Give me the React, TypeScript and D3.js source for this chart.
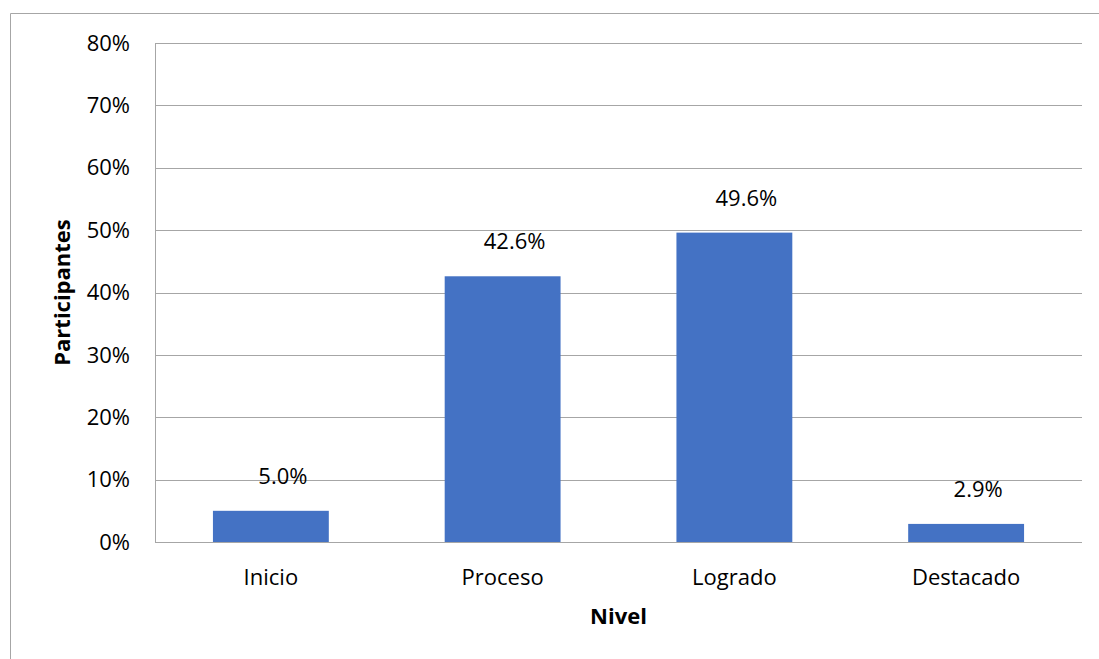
import React from "react";
import * as d3 from "d3";

// Share of participants by achievement level
const categories: string[] = ["Inicio", "Proceso", "Logrado", "Destacado"];
const values: number[] = [5.0, 42.6, 49.6, 2.9];
const yTicks: number[] = [0, 10, 20, 30, 40, 50, 60, 70, 80];

const W = 1099;
const H = 659;
const FONT = "'Open Sans', 'Noto Sans', sans-serif";
const FS = 22;

export default function App() {
  const margin = { left: 155, top: 43, right: 1082, bottom: 542 };

  const x = d3
    .scaleBand<string>()
    .domain(categories)
    .range([margin.left, margin.right])
    .paddingInner(0.5)
    .paddingOuter(0.25);

  const y = d3.scaleLinear().domain([0, 80]).range([margin.bottom, margin.top]);

  const grid = "#A6A6A6";

  return (
    <svg
      width={W}
      height={H}
      style={{ position: "fixed", left: 0, top: 0, background: "#fff" }}
      fontFamily={FONT}
    >
      {/* chart frame (top and left edges visible) */}
      <line x1={10.5} y1={13.5} x2={W} y2={13.5} stroke={grid} strokeWidth={1} />
      <line x1={10.5} y1={13.5} x2={10.5} y2={H} stroke={grid} strokeWidth={1} />

      {/* horizontal gridlines */}
      {yTicks.map((t) => (
        <line
          key={"g" + t}
          x1={margin.left}
          x2={margin.right}
          y1={Math.round(y(t)) + 0.5}
          y2={Math.round(y(t)) + 0.5}
          stroke={grid}
          strokeWidth={1}
        />
      ))}
      {/* value axis line */}
      <line
        x1={margin.left + 0.5}
        x2={margin.left + 0.5}
        y1={margin.top}
        y2={margin.bottom}
        stroke={grid}
        strokeWidth={1}
      />

      {/* y tick labels */}
      {yTicks.map((t) => (
        <text
          key={"t" + t}
          x={130}
          y={y(t)}
          dy="0.35em"
          textAnchor="end"
          fontSize={FS}
          fill="#000"
        >
          {t + "%"}
        </text>
      ))}

      {/* bars */}
      {categories.map((c, i) => (
        <rect
          key={"b" + c}
          x={x(c)!}
          y={y(values[i])}
          width={x.bandwidth()}
          height={y(0) - y(values[i])}
          fill="#4472C4"
        />
      ))}

      {/* value labels */}
      {categories.map((c, i) => (
        <text
          key={"v" + c}
          x={x(c)! + x.bandwidth() / 2 + 12}
          y={y(values[i]) - 27}
          textAnchor="middle"
          fontSize={FS}
          fill="#000"
        >
          {values[i].toFixed(1) + "%"}
        </text>
      ))}

      {/* category labels */}
      {categories.map((c) => (
        <text
          key={"c" + c}
          x={x(c)! + x.bandwidth() / 2}
          y={585}
          textAnchor="middle"
          fontSize={FS}
          fill="#000"
        >
          {c}
        </text>
      ))}

      {/* axis titles */}
      <text
        x={(margin.left + margin.right) / 2}
        y={624}
        textAnchor="middle"
        fontSize={FS}
        fontWeight="bold"
        fill="#000"
      >
        Nivel
      </text>
      <text
        transform={`translate(70, ${(margin.top + margin.bottom) / 2}) rotate(-90)`}
        textAnchor="middle"
        fontSize={FS}
        fontWeight="bold"
        fill="#000"
      >
        Participantes
      </text>
    </svg>
  );
}
